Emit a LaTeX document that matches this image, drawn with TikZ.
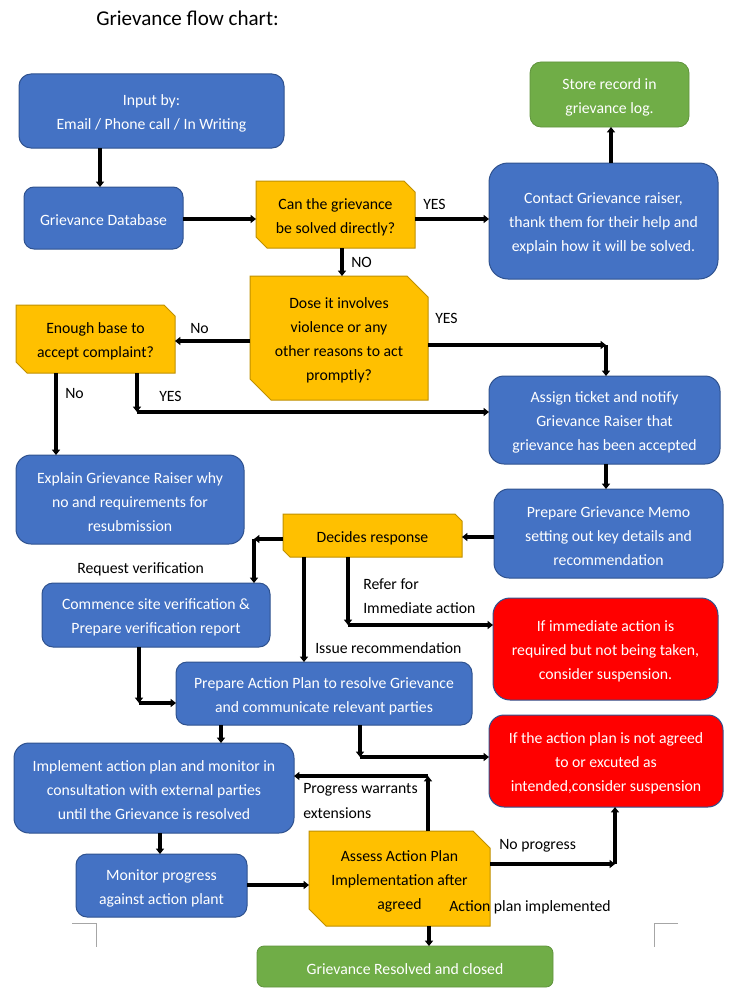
\documentclass[tikz,border=0pt]{standalone}
\usepackage{fontspec}
\setmainfont{Carlito}
\usetikzlibrary{arrows.meta,backgrounds}
\definecolor{bluef}{HTML}{4472C4}
\definecolor{blueb}{HTML}{2F528F}
\definecolor{yelf}{HTML}{FFC000}
\definecolor{yelb}{HTML}{BF9000}
\definecolor{grnf}{HTML}{70AD47}
\definecolor{redf}{HTML}{FF0000}
\definecolor{markgray}{HTML}{A6A6A6}
\tikzset{
 base/.style={inner sep=0pt, outer sep=0pt},
 sz/.style 2 args={minimum width=#1*0.75pt, minimum height=#2*0.75pt},
 tx/.style={font=\fontsize{11.8}{18}\selectfont, align=center, inner sep=0pt, text=white, yshift=-1.9pt},
 txk/.style={tx, text=black},
 t/.style={label={[tx]center:{#1}}},
 tk/.style={label={[txk]center:{#1}}},
 bluebox/.style={base, fill=bluef, draw=blueb, line width=0.75pt},
 greenbox/.style={base, fill=grnf, draw=grnf!85!black, line width=0.6pt},
 redbox/.style={base, fill=redf, draw=blueb, line width=0.75pt},
 yelbox/.style={base},
 rc/.style={rounded corners=#1*0.75pt},
 arr/.style={line width=2.3pt, -{Triangle[length=4pt,width=6pt]}},
 lbl/.style={font=\fontsize{11.8}{18}\selectfont, anchor=west, inner sep=0pt, align=left, text=black},
}
\newcommand\snipshape[2]{%
 \begin{pgfonlayer}{background}
 \filldraw[fill=yelf, draw=yelb, line width=0.75pt] (#1.north west) -- ([xshift=-#2*0.75pt]#1.north east) -- ([yshift=-#2*0.75pt]#1.north east) -- (#1.south east) -- ([xshift=#2*0.75pt]#1.south west) -- ([yshift=#2*0.75pt]#1.south west) -- cycle;
 \end{pgfonlayer}}
\begin{document}
\begin{tikzpicture}[x=0.75pt,y=-0.75pt]
\useasboundingbox (0,0) rectangle (750,1006);
% title
\node[font=\fontsize{15.8}{19}\selectfont, anchor=west, inner sep=0pt] (title) at (96,18) {Grievance flow chart:};
% boxes
\node[bluebox, rc=12, sz={265}{74}, t={Input by:\\Email / Phone call / In Writing}] (input) at (151.5,111) {};
\node[bluebox, rc=10, sz={159}{62}, t={Grievance Database}] (db) at (103.5,218) {};
\node[yelbox, sz={159}{67}, tk={Can the grievance\\be solved directly?}] (d1) at (335.5,214.5) {};
\snipshape{d1}{11}
\node[bluebox, rc=19, sz={229}{116}, t={Contact Grievance raiser,\\thank them for their help and\\explain how it will be solved.}] (contact) at (603.5,221) {};
\node[greenbox, rc=11, sz={159}{65}, t={Store record in\\grievance log.}] (store) at (609.5,94.5) {};
\node[yelbox, sz={178}{124}, tk={Dose it involves\\violence or any\\other reasons to act\\promptly?}] (d2) at (339,338) {};
\snipshape{d2}{21}
\node[yelbox, sz={159}{68}, tk={Enough base to\\accept complaint?}] (d3) at (95.5,339) {};
\snipshape{d3}{11}
\node[bluebox, rc=15, sz={231}{88}, t={Assign ticket and notify\\Grievance Raiser that\\grievance has been accepted}] (assign) at (604.5,420) {};
\node[bluebox, rc=15, sz={228}{89}, t={Explain Grievance Raiser why\\no and requirements for\\resubmission}] (explain) at (130,499.5) {};
\node[bluebox, rc=15, sz={229}{89}, t={Prepare Grievance Memo\\setting out key details and\\recommendation}] (memo) at (608.5,533.5) {};
\node[yelbox, sz={179}{43}, tk={Decides response}] (decides) at (372.5,535.5) {};
\snipshape{decides}{7}
\node[bluebox, rc=11, sz={228}{64}, t={Commence site verification \&\\Prepare verification report}] (commence) at (156,615) {};
\node[redbox, rc=17, sz={225}{102}, t={If immediate action is\\required but not being taken,\\consider suspension.}] (red1) at (605.5,649) {};
\node[bluebox, rc=11, sz={296}{63}, t={Prepare Action Plan to resolve Grievance\\and communicate relevant parties}] (action) at (324,693.5) {};
\node[redbox, rc=15, sz={234}{92}, t={If the action plan is not agreed\\to or excuted as\\intended,consider suspension}] (red2) at (606,761) {};
\node[bluebox, rc=15, sz={280}{90}, t={Implement action plan and monitor in\\consultation with external parties\\until the Grievance is resolved}] (implement) at (154,788) {};
\node[bluebox, rc=11, sz={171}{63}, t={Monitor progress\\against action plant}] (monitor) at (161.5,885.5) {};
\node[yelbox, sz={181}{95}, tk={Assess Action Plan\\Implementation after\\agreed}] (assess) at (399.5,878.5) {};
\snipshape{assess}{17}
\node[greenbox, rc=7, sz={296}{41}, t={Grievance Resolved and closed}] (resolved) at (405,966.5) {};
% corner coordinates
\coordinate (c1) at (606,345);
\coordinate (c2) at (137,412);
\coordinate (c3) at (254,539);
\coordinate (c4) at (348,625);
\coordinate (c5) at (139,703);
\coordinate (c6) at (360,757);
\coordinate (c7) at (428,776);
\coordinate (c8) at (615,864);
% connectors
\draw[arr] (input.south -| 100,0) -- (db.north -| 100,0);
\draw[arr] (db.east |- 0,219) -- (d1.west |- 0,219);
\draw[arr] (d1.east |- 0,219) -- (contact.west |- 0,219);
\draw[arr] (contact.north -| 611,0) -- (store.south -| 611,0);
\draw[arr] (d1.south -| 342,0) -- (d2.north -| 342,0);
\draw[arr] (d2.west |- 0,341) -- (d3.east |- 0,341);
\draw[arr] (d2.east |- c1) -- (c1);
\draw[arr] (c1) -- (assign.north -| c1);
\draw[arr] (d3.south -| 56,0) -- (explain.north -| 56,0);
\draw[arr] (d3.south -| c2) -- (c2);
\draw[arr] (c2) -- (assign.west |- c2);
\draw[arr] (assign.south -| 606,0) -- (memo.north -| 606,0);
\draw[arr] (memo.west |- 0,537) -- (decides.east |- 0,537);
\draw[arr] (decides.west |- c3) -- (c3);
\draw[arr] (c3) -- (commence.north -| c3);
\draw[arr] (decides.south -| 304,0) -- (action.north -| 304,0);
\draw[arr] (decides.south -| c4) -- (c4);
\draw[arr] (c4) -- (red1.west |- c4);
\draw[arr] (commence.south -| c5) -- (c5);
\draw[arr] (c5) -- (action.west |- c5);
\draw[arr] (action.south -| 221,0) -- (implement.north -| 221,0);
\draw[arr] (action.south -| c6) -- (c6);
\draw[arr] (c6) -- (red2.west |- c6);
\draw[arr] (assess.north -| c7) -- (c7);
\draw[arr] (c7) -- (implement.east |- c7);
\draw[arr] (implement.south -| 160,0) -- (monitor.north -| 160,0);
\draw[arr] (monitor.east |- 0,885) -- (assess.west |- 0,885);
\draw[arr] (assess.east |- c8) -- (c8);
\draw[arr] (c8) -- (red2.south -| c8);
\draw[arr] (assess.south -| 429,0) -- (resolved.north -| 429,0);
% labels
\node[lbl] (l1) at (423,204) {YES};
\node[lbl] (l2) at (351,262) {NO};
\node[lbl] (l3) at (190,329) {No};
\node[lbl] (l4) at (435,318) {YES};
\node[lbl] (l5) at (65,394) {No};
\node[lbl] (l6) at (159,396) {YES};
\node[lbl] (l7) at (77,569) {Request verification};
\node[lbl] (l8) at (363,596) {Refer for\\Immediate action};
\node[lbl] (l9) at (315,648) {Issue recommendation};
\node[lbl] (l10) at (303,801) {Progress warrants\\extensions};
\node[lbl] (l11) at (499,846) {No progress};
\node[lbl] (l12) at (449,907) {Action plan implemented};
% page corner marks
\draw[markgray, line width=0.6pt] (72,923) -- (96,923) -- (96,947);
\draw[markgray, line width=0.6pt] (678,923) -- (654,923) -- (654,947);
\end{tikzpicture}
\end{document}
